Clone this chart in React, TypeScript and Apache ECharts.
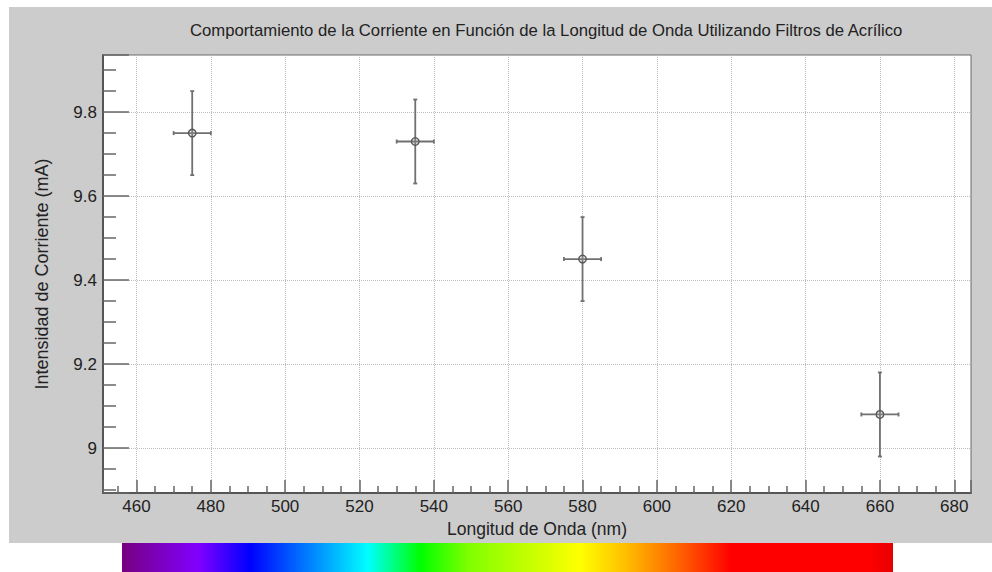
import React, { useEffect, useRef } from "react";
import * as echarts from "echarts";

// ---- data ----
const wavelengthNm = [475, 535, 580, 660];
const currentMA = [9.75, 9.73, 9.45, 9.08];
const wavelengthErr = [5, 5, 5, 5];
const currentErr = [0.1, 0.1, 0.1, 0.1];

const xRange = [451, 684.5];
const yRange = [8.893, 9.936];

const titleText =
  "Comportamiento de la Corriente en Función de la Longitud de Onda Utilizando Filtros de Acrílico";
const xName = "Longitud de Onda (nm)";
const yName = "Intensidad de Corriente (mA)";

const spectrumStops = [
  { offset: 0, color: "#780080" },
  { offset: 0.099, color: "#8000ff" },
  { offset: 0.166, color: "#0000ff" },
  { offset: 0.319, color: "#00ffff" },
  { offset: 0.387, color: "#00ff00" },
  { offset: 0.45, color: "#80ff00" },
  { offset: 0.594, color: "#ffff00" },
  { offset: 0.652, color: "#ffc000" },
  { offset: 0.724, color: "#ff6000" },
  { offset: 0.79, color: "#ff0000" },
  { offset: 0.97, color: "#ff0000" },
  { offset: 1, color: "#e60000" },
];

const FONT = "'Liberation Sans', Arial, Helvetica, sans-serif";

export default function App() {
  const ref = useRef<HTMLDivElement>(null);

  useEffect(() => {
    if (!ref.current) return;
    const chart = echarts.init(ref.current, undefined, { renderer: "svg" });

    const seriesData = wavelengthNm.map((x, i) => [
      x,
      currentMA[i],
      wavelengthErr[i],
      currentErr[i],
    ]);

    const option: any = {
      animation: false,
      backgroundColor: "transparent",
      graphic: [
        {
          type: "rect",
          z: -100,
          silent: true,
          shape: { x: 9, y: 7, width: 983, height: 536 },
          style: { fill: "#cccccc" },
        },
        {
          type: "rect",
          z: -100,
          silent: true,
          shape: { x: 122, y: 543, width: 771, height: 29 },
          style: {
            fill: {
              type: "linear",
              x: 0,
              y: 0,
              x2: 1,
              y2: 0,
              colorStops: spectrumStops,
            },
          },
        },
      ],
      title: {
        text: titleText,
        left: 190,
        top: 22,
        padding: 0,
        textStyle: {
          fontFamily: FONT,
          fontSize: 16.7,
          fontWeight: "normal",
          color: "#222",
        },
      },
      grid: {
        left: 103,
        top: 55,
        right: 21,
        bottom: 79,
        show: true,
        backgroundColor: "#ffffff",
        borderColor: "#6a6a6a",
        borderWidth: 1,
      },
      xAxis: {
        type: "value",
        min: xRange[0],
        max: xRange[1],
        splitNumber: 11,
        name: xName,
        nameLocation: "middle",
        nameGap: 24,
        nameTextStyle: { fontFamily: FONT, fontSize: 17.5, color: "#222" },
        axisLine: { show: true, lineStyle: { color: "#555", width: 2 } },
        axisTick: {
          show: true,
          inside: true,
          length: 13,
          lineStyle: { color: "#666", width: 1.5 },
        },
        minorTick: {
          show: true,
          splitNumber: 4,
          length: 7,
          lineStyle: { color: "#666", width: 1.5 },
        },
        axisLabel: {
          showMinLabel: false,
          showMaxLabel: false,
          margin: 5,
          fontFamily: FONT,
          fontSize: 17,
          color: "#222",
        },
        splitLine: {
          show: true,
          showMinLine: false,
          showMaxLine: false,
          lineStyle: { color: "#bdbdbd", width: 1, type: [1, 1] },
        },
      },
      yAxis: {
        type: "value",
        min: yRange[0],
        max: yRange[1],
        splitNumber: 5,
        name: yName,
        nameLocation: "middle",
        nameGap: 52,
        nameTextStyle: { fontFamily: FONT, fontSize: 18, color: "#222" },
        axisLine: { show: true, lineStyle: { color: "#555", width: 2 } },
        axisTick: {
          show: true,
          inside: true,
          length: 26,
          lineStyle: { color: "#666", width: 1.5 },
        },
        minorTick: {
          show: true,
          splitNumber: 4,
          length: 13,
          lineStyle: { color: "#666", width: 1.5 },
        },
        axisLabel: {
          showMinLabel: false,
          showMaxLabel: false,
          margin: 6,
          fontFamily: FONT,
          fontSize: 17,
          color: "#222",
        },
        splitLine: {
          show: true,
          showMinLine: false,
          showMaxLine: false,
          lineStyle: { color: "#bdbdbd", width: 1, type: [1, 1] },
        },
      },
      series: [
        {
          type: "custom",
          data: seriesData,
          encode: { x: 0, y: 1 },
          renderItem: (_params: any, api: any) => {
            const x = api.value(0);
            const y = api.value(1);
            const ex = api.value(2);
            const ey = api.value(3);
            const c = api.coord([x, y]);
            const t = api.coord([x, y + ey]);
            const b = api.coord([x, y - ey]);
            const l = api.coord([x - ex, y]);
            const r = api.coord([x + ex, y]);
            const cap = 2;
            const ls = { stroke: "#707070", lineWidth: 1.8 };
            return {
              type: "group",
              children: [
                { type: "line", shape: { x1: t[0], y1: t[1], x2: b[0], y2: b[1] }, style: ls },
                { type: "line", shape: { x1: l[0], y1: l[1], x2: r[0], y2: r[1] }, style: ls },
                { type: "line", shape: { x1: t[0] - cap, y1: t[1], x2: t[0] + cap, y2: t[1] }, style: ls },
                { type: "line", shape: { x1: b[0] - cap, y1: b[1], x2: b[0] + cap, y2: b[1] }, style: ls },
                { type: "line", shape: { x1: l[0], y1: l[1] - cap, x2: l[0], y2: l[1] + cap }, style: ls },
                { type: "line", shape: { x1: r[0], y1: r[1] - cap, x2: r[0], y2: r[1] + cap }, style: ls },
                {
                  type: "circle",
                  shape: { cx: c[0], cy: c[1], r: 3.8 },
                  style: { fill: "rgba(160,160,160,0.25)", stroke: "#555", lineWidth: 1.3 },
                },
              ],
            };
          },
        },
      ],
    };

    chart.setOption(option);
    return () => chart.dispose();
  }, []);

  return (
    <div
      ref={ref}
      style={{ position: "absolute", left: 0, top: 0, width: 992, height: 572 }}
    />
  );
}
